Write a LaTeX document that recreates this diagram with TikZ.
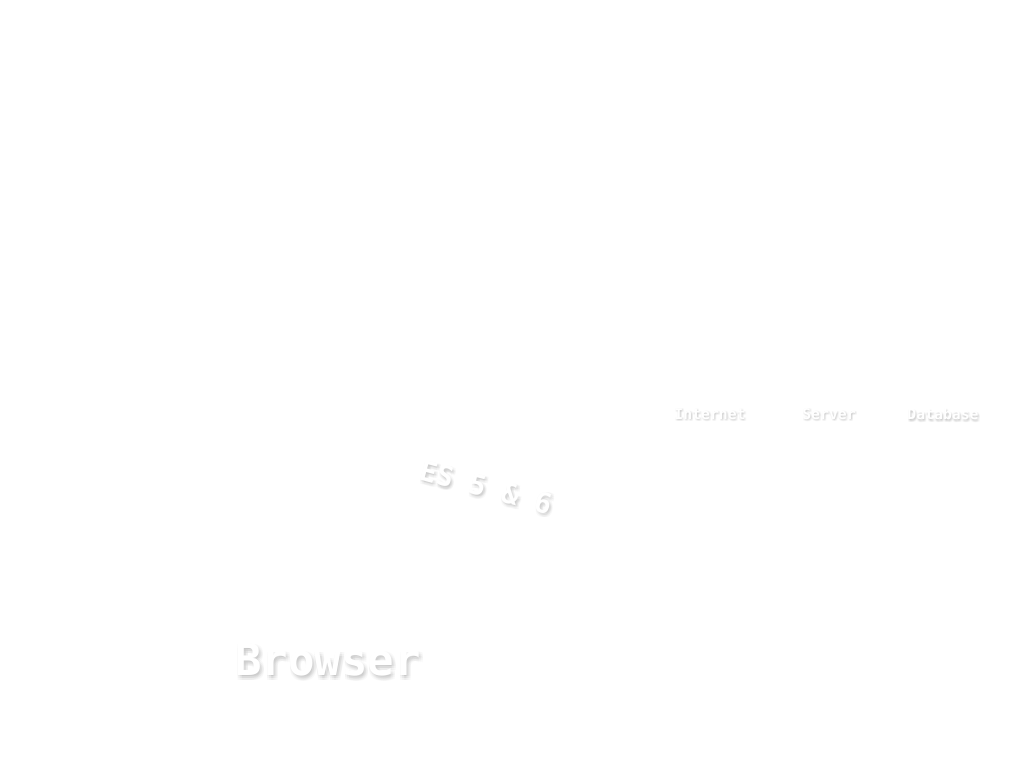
\documentclass[tikz,border=0pt]{standalone}
\usepackage{fontspec}
\newfontfamily\labelfont{DejaVu Sans Mono}
\tikzset{
  glow/.style={text=white, font=\labelfont\bfseries, inner sep=0pt},
  shade/.style={text=black, opacity=0.025, font=\labelfont\bfseries, inner sep=0pt}
}
\begin{document}
\begin{tikzpicture}[x=0.01cm, y=-0.01cm]
\useasboundingbox[fill=white] (0,0) rectangle (1025,769);
% Soft shadows under the labels
\foreach \dx in {0,2,4} {
  \foreach \dy in {1,3,5} {
    \node[shade, font=\labelfont\bfseries\fontsize{4.2}{5}\selectfont] at (710+\dx*0.5,414+\dy*0.5) {Internet};
    \node[shade, font=\labelfont\bfseries\fontsize{4.2}{5}\selectfont] at (829+\dx*0.5,414+\dy*0.5) {Server};
    \node[shade, font=\labelfont\bfseries\fontsize{4.2}{5}\selectfont] at (943+\dx*0.5,414+\dy*0.5) {Database};
    \node[shade, rotate=-15, font=\labelfont\bfseries\fontsize{8}{9}\selectfont] at (486+\dx*0.8,487+\dy*0.8) {ES 5 \& 6};
    \node[shade, font=\labelfont\bfseries\fontsize{12.5}{14}\selectfont] at (328+\dx,660+\dy) {Browser};
  }
}
% Labels
\node[glow, font=\labelfont\bfseries\fontsize{4.2}{5}\selectfont] (internet) at (710,414) {Internet};
\node[glow, font=\labelfont\bfseries\fontsize{4.2}{5}\selectfont] (server) at (829,414) {Server};
\node[glow, font=\labelfont\bfseries\fontsize{4.2}{5}\selectfont] (database) at (943,414) {Database};
\node[glow, rotate=-15, font=\labelfont\bfseries\fontsize{8}{9}\selectfont] (es) at (486,487) {ES 5 \& 6};
\node[glow, font=\labelfont\bfseries\fontsize{12.5}{14}\selectfont] (browser) at (328,660) {Browser};
\end{tikzpicture}
\end{document}
